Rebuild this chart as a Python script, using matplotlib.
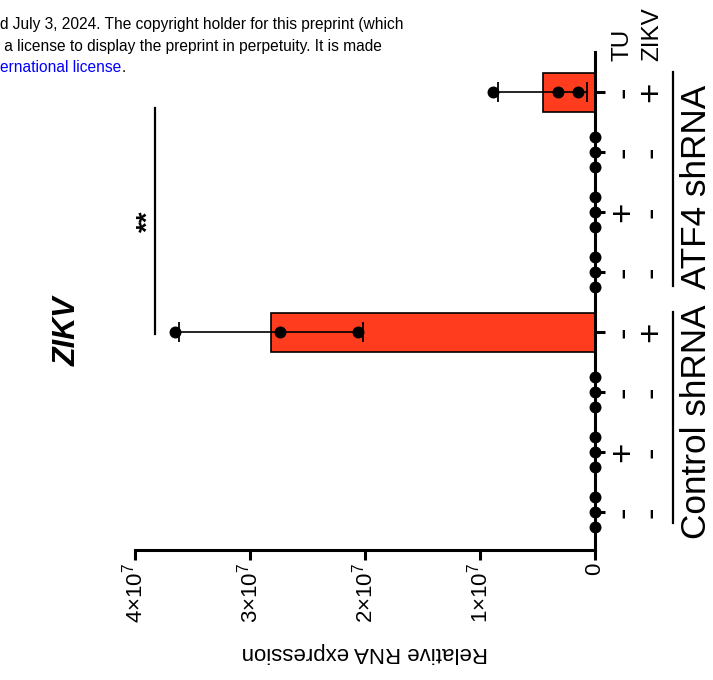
import numpy as np
import matplotlib
matplotlib.use("Agg")
import matplotlib.pyplot as plt
import matplotlib.transforms as mtransforms
from matplotlib.ticker import FuncFormatter

plt.rcParams["font.family"] = ["Liberation Sans", "DejaVu Sans"]
plt.rcParams["mathtext.default"] = "regular"

# ── data (rows listed bottom -> top of the rotated chart) ───────────────────
tu_signs = ["-", "+", "-", "-", "-", "+", "-", "-"]
zikv_signs = ["-", "-", "-", "+", "-", "-", "-", "+"]
replicates = [
    [0, 0, 0],
    [0, 0, 0],
    [0, 0, 0],
    [3.65e7, 2.74e7, 2.06e7],   # Control shRNA, ZIKV +
    [0, 0, 0],
    [0, 0, 0],
    [0, 0, 0],
    [0.89e7, 0.32e7, 0.15e7],   # ATF4 shRNA, ZIKV +
]
value_ticks = [0, 1e7, 2e7, 3e7, 4e7]
group_names = ["Control shRNA", "ATF4 shRNA"]
sig_label = "**"

BAR_COLOR = "#FF3C1E"
W, H = 713, 680

means = [np.mean(r) for r in replicates]
sds = [np.std(r, ddof=1) for r in replicates]
positions = np.arange(len(replicates))

fig = plt.figure(figsize=(W / 100, H / 100), dpi=100)
ax = fig.add_axes([135 / W, 130 / H, 460 / W, 498 / H])


def fx(px):
    return px / W


def fy(py):
    return 1 - py / H


ax.barh(positions, means, height=0.65, color=BAR_COLOR,
        edgecolor="black", linewidth=1.2, zorder=2)

for i, (m, s) in enumerate(zip(means, sds)):
    if s > 0:
        ax.errorbar(m, i, xerr=s, fmt="none", ecolor="black",
                    elinewidth=1.2, capsize=7.5, capthick=1.3, zorder=3)

for i, vals in enumerate(replicates):
    offs = np.zeros(len(vals)) if max(vals) > 0 else np.array([-0.25, 0, 0.25])
    ax.scatter(vals, i + offs, s=74, color="black", zorder=5, clip_on=False,
               linewidths=0)

ax.set_xlim(4e7, 0)
ax.set_ylim(-0.633, 7.667)

for side in ["left", "top"]:
    ax.spines[side].set_visible(False)
for side in ["bottom", "right"]:
    ax.spines[side].set_linewidth(2.2)

ax.yaxis.tick_right()
ax.set_yticks(positions)
ax.set_yticklabels([])
ax.tick_params(axis="y", length=7, width=2.2, direction="out")


def sci_fmt(v, pos):
    if v == 0:
        return "0"
    return r"$%d{\times}10^{7}$" % int(round(v / 1e7))


ax.set_xticks(value_ticks)
ax.xaxis.set_major_formatter(FuncFormatter(sci_fmt))
ax.tick_params(axis="x", length=7, width=2.2, labelsize=16,
               labelrotation=90, pad=2)

# axis title (rotated chart -> upside down)
fig.text(fx(365), fy(652), "Relative RNA expression", rotation=180,
         ha="center", va="center", fontsize=16)

# chart title
fig.text(fx(68), fy(331), "ZIKV", rotation=90, ha="center", va="center",
         fontsize=22, fontweight="bold", fontstyle="italic")

# significance bracket
ax.plot([3.826e7, 3.826e7], [2.97, 6.73], color="black", lw=1.6,
        clip_on=False, zorder=4)
ax.text(3.88e7, 4.85, sig_label, rotation=90, ha="center", va="center",
        fontsize=20, fontweight="bold")

# condition table on the right: one two-line text per row (TU line, ZIKV line)
tr = mtransforms.blended_transform_factory(fig.transFigure, ax.transData)
for i in positions:
    ax.text(fx(637), i, tu_signs[i] + "\n" + zikv_signs[i], transform=tr,
            rotation=90, ha="center", va="center", fontsize=25,
            linespacing=0.82, multialignment="center")

fig.text(fx(637), fy(34), "TU\nZIKV", rotation=90, ha="center", va="center",
         fontsize=17.5, linespacing=1.45, multialignment="left")

line_spans_px = [(312, 523), (72, 286)]
label_centers_px = [422, 187]
for name, (y0, y1), yc in zip(group_names, line_spans_px, label_centers_px):
    fig.add_artist(plt.Line2D([fx(673), fx(673)], [fy(y0), fy(y1)],
                              color="black", lw=1.6))
    fig.text(fx(696), fy(yc), name, rotation=90, ha="center", va="center",
             fontsize=25.3)

# preprint header fragment
fig.text(0, fy(25), "d July 3, 2024. The copyright holder for this preprint (which",
         fontsize=11.2, ha="left", va="center")
fig.text(0, fy(47), " a license to display the preprint in perpetuity. It is made",
         fontsize=11.2, ha="left", va="center")
blue = fig.text(0, fy(68), "ernational license", fontsize=11.2, ha="left",
                va="center", color="#0000FF")
renderer = fig.canvas.get_renderer()
bb = blue.get_window_extent(renderer)
fig.text(bb.x1 / W, fy(68), ".", fontsize=11.2, ha="left", va="center")

fig.savefig("out.png", dpi=100)
